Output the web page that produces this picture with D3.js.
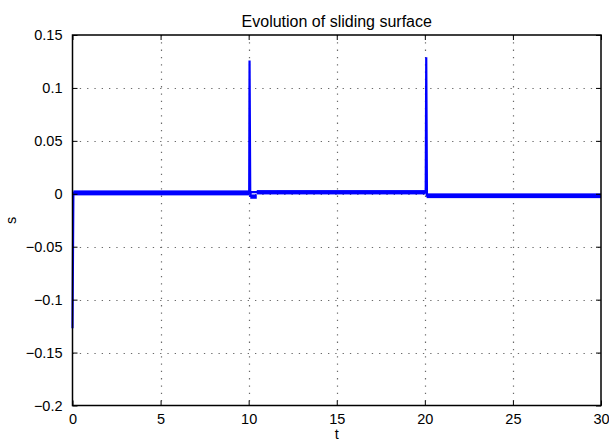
<!DOCTYPE html>
<html>
<head>
<meta charset="utf-8">
<script src="https://cdn.jsdelivr.net/npm/d3@7"></script>
<style>
  html, body { margin: 0; padding: 0; background: #fff; }
  svg { display: block; }
  text { font-family: "Liberation Sans", Arial, Helvetica, sans-serif; fill: #000; }
</style>
</head>
<body>
<svg id="chart" width="609" height="441"></svg>
<script>
// Axis ticks
const tTicks = [0, 5, 10, 15, 20, 25, 30];
const sTicks = [-0.2, -0.15, -0.1, -0.05, 0, 0.05, 0.1, 0.15];

// Sliding surface trajectory s(t): reaching phase and switching spikes
const trajT = [0, 0.05, 10.03, 10.05, 10.09, 10.12, 20.05, 20.08, 20.12, 30];
const trajS = [-0.127, 0.0008, 0.0008, 0.126, -0.003, 0.0015, 0.0015, 0.129, -0.0018, -0.0018];

// Chattering envelope around s = 0 for each interval
const bandStart = [0.05, 10.09, 10.46, 20.1];
const bandEnd   = [10.03, 10.46, 20.05, 30];
const bandHi    = [0.0032, -0.0006, 0.0035, 0.0004];
const bandLo    = [-0.0015, -0.0047, -0.0006, -0.0041];

const svg = d3.select("#chart");
const mLeft = 72.5, mRight = 601, mTop = 35, mBottom = 405.5;

const x = d3.scaleLinear().domain([0, 30]).range([mLeft, mRight]);
const y = d3.scaleLinear().domain([-0.2, 0.15]).range([mBottom, mTop]);

const fmt = v => (v < 0 ? "\u2212" : "") + String(Math.abs(v));

// dotted grid
const grid = svg.append("g").attr("stroke", "#6a6a6a").attr("stroke-width", 1.2)
  .attr("stroke-dasharray", "1.3,6");
grid.selectAll(".gx").data(tTicks.slice(1, -1)).join("line")
  .attr("x1", d => Math.round(x(d)) + 0.5).attr("x2", d => Math.round(x(d)) + 0.5)
  .attr("y1", mTop).attr("y2", mBottom);
grid.selectAll(".gy").data(sTicks.slice(1, -1)).join("line")
  .attr("y1", d => Math.round(y(d)) + 0.5).attr("y2", d => Math.round(y(d)) + 0.5)
  .attr("x1", mLeft).attr("x2", mRight);

// chattering band
const plot = svg.append("g");
plot.selectAll("rect.band").data(bandStart.map((s, i) => i)).join("rect")
  .attr("class", "band")
  .attr("x", i => x(bandStart[i]))
  .attr("width", i => x(bandEnd[i]) - x(bandStart[i]))
  .attr("y", i => y(bandHi[i]))
  .attr("height", i => y(bandLo[i]) - y(bandHi[i]))
  .attr("fill", "#0000ff");

// trajectory
const line = d3.line().x(i => x(trajT[i])).y(i => y(trajS[i]));
plot.append("path")
  .attr("d", line(trajT.map((t, i) => i)))
  .attr("fill", "none")
  .attr("stroke", "#0000ff")
  .attr("stroke-width", 2.2)
  .attr("stroke-linejoin", "miter");

// axes with inward ticks on all four sides
const tick = 5;
const axB = d3.axisBottom(x).tickValues(tTicks).tickSizeInner(-tick).tickSizeOuter(0).tickFormat(d => d).tickPadding(8);
const axT = d3.axisTop(x).tickValues(tTicks).tickSizeInner(-tick).tickSizeOuter(0).tickFormat("");
const axL = d3.axisLeft(y).tickValues(sTicks).tickSizeInner(-tick).tickSizeOuter(0).tickFormat(fmt).tickPadding(10);
const axR = d3.axisRight(y).tickValues(sTicks).tickSizeInner(-tick).tickSizeOuter(0).tickFormat("");

function style(g) {
  g.select(".domain").remove();
  g.selectAll(".tick line").attr("stroke", "#000").attr("stroke-width", 1);
  g.selectAll(".tick text").attr("font-size", 14.5).attr("fill", "#000")
    .attr("font-family", "Liberation Sans, Arial, sans-serif");
}
svg.append("g").attr("transform", `translate(0,${mBottom})`).call(axB).call(style);
svg.append("g").attr("transform", `translate(0,${mTop})`).call(axT).call(style);
svg.append("g").attr("transform", `translate(${mLeft},0)`).call(axL).call(style);
svg.append("g").attr("transform", `translate(${mRight},0)`).call(axR).call(style);

// box
svg.append("rect")
  .attr("x", mLeft).attr("y", mTop)
  .attr("width", mRight - mLeft).attr("height", mBottom - mTop)
  .attr("fill", "none").attr("stroke", "#000").attr("stroke-width", 1.5);

// labels
svg.append("text").attr("x", (mLeft + mRight) / 2).attr("y", 26.5)
  .attr("text-anchor", "middle").attr("font-size", 16)
  .text("Evolution of sliding surface");
svg.append("text").attr("x", (mLeft + mRight) / 2).attr("y", 439)
  .attr("text-anchor", "middle").attr("font-size", 14.5).text("t");
svg.append("text")
  .attr("transform", `translate(16,${(mTop + mBottom) / 2}) rotate(-90)`)
  .attr("text-anchor", "middle").attr("font-size", 14.5).text("s");
</script>
</body>
</html>
